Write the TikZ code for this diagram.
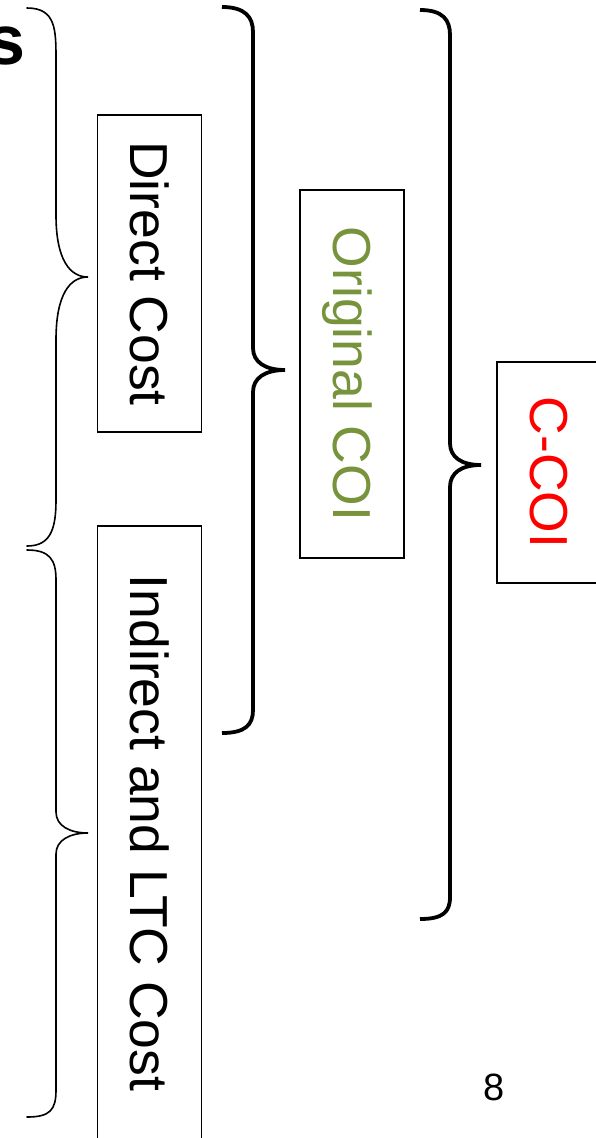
\documentclass[tikz,border=0pt]{standalone}
\usepackage{fontspec}
\setmainfont{Liberation Sans}
\definecolor{olivegreen}{RGB}{119,147,60}
\begin{document}
\begin{tikzpicture}[x=1pt,y=-1pt,
  box/.style={draw, line width=1.8pt, rotate=-90, inner sep=0pt, minimum height=104pt,
    text height=38pt, text depth=0pt, font=\fontsize{53.5}{60}\selectfont},
  thinbrace/.style={line width=1.6pt, line cap=round},
  thickbrace/.style={line width=3.8pt, line cap=butt}]
\useasboundingbox (0,0) rectangle (595,1138);
\fill[white] (0,0) rectangle (595,1138);
% boxes
\node[box, minimum width=317pt] (direct) at (149.5,273.5) {Direct Cost};
\node[box, minimum width=614pt] (indirect) at (149.5,833) {Indirect and LTC Cost};
\node[box, minimum width=368pt, text=olivegreen] (orig) at (352,374) {Original COI};
\node[box, minimum width=221pt, text=red] (ccoi) at (549,472.5) {C-COI};
\node[font=\fontsize{38}{44}\selectfont, inner sep=0pt] (page) at (494,1087) {8};
\node[font=\bfseries\fontsize{70}{80}\selectfont, inner sep=0pt, anchor=base east] (s) at (26,64) {s};
% thin braces
\draw[thinbrace] (27,8) .. controls (56,8) and (56,30) .. (56,60) -- (56,215)
  .. controls (56,260) and (70,277) .. (88,277)
  .. controls (70,277) and (56,294) .. (56,340) -- (56,500)
  .. controls (56,530) and (50,546) .. (27,546);
\draw[thinbrace] (27,550) .. controls (50,550) and (56,560) .. (56,580) -- (56,812)
  .. controls (56,826) and (70,833) .. (88,833)
  .. controls (70,833) and (56,840) .. (56,854) -- (56,1090)
  .. controls (56,1110) and (50,1117) .. (27,1117);
% thick braces
\draw[thickbrace] (222,7) .. controls (245,7) and (253,17) .. (253,32) -- (253,348)
  .. controls (253,362) and (265,370) .. (285,370)
  .. controls (265,370) and (253,378) .. (253,392) -- (253,710)
  .. controls (253,725) and (245,733) .. (222,733);
\draw[thickbrace] (420,10) .. controls (443,10) and (450,20) .. (450,35) -- (450,443)
  .. controls (450,457) and (461,465) .. (481,465)
  .. controls (461,465) and (450,473) .. (450,487) -- (450,897)
  .. controls (450,912) and (443,919) .. (420,919);
\end{tikzpicture}
\end{document}
